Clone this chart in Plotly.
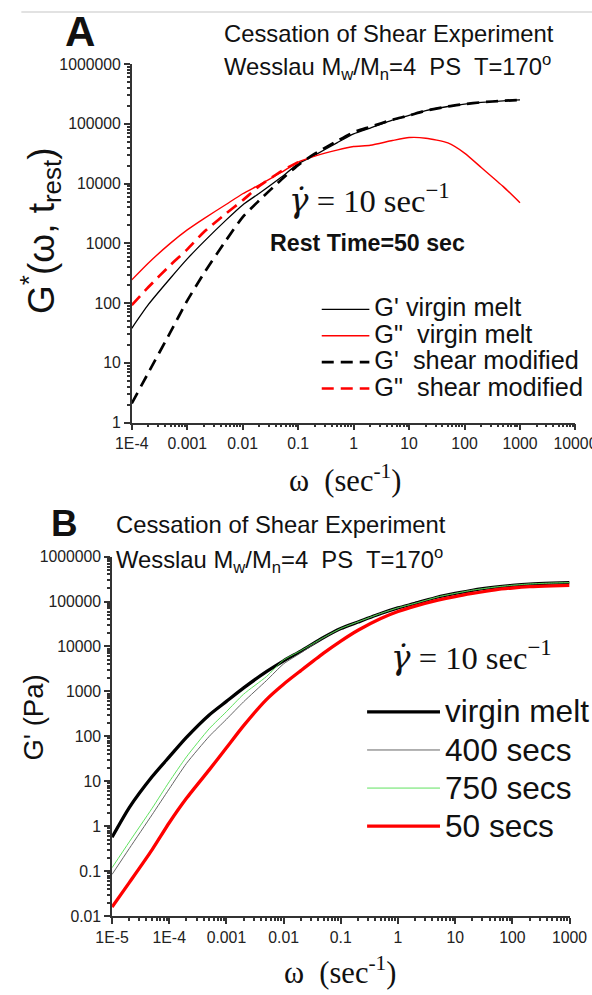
import plotly.graph_objects as go

# ---------------- Panel A data ----------------
omega_A = [1e-4, 2e-4, 5e-4, 1e-3, 2e-3, 5e-3, 1e-2, 2e-2, 5e-2, 0.1, 0.2, 0.5,
           1, 2, 5, 10, 20, 50, 100, 200, 500, 1000]
gp_virgin = [38, 95, 263, 550, 1070, 2450, 4400, 6900, 12900, 21400, 30000, 48000,
             68000, 85000, 115000, 138000, 166000, 195000, 214000, 229000, 243000, 251000]
gpp_virgin = [245, 470, 1010, 1680, 2600, 4470, 6760, 9550, 15500, 22900, 28800, 36300,
              41700, 43700, 52500, 58900, 57500, 47900, 32400, 18600, 8900, 4790]
gp_shear = [2.1, 6.9, 33, 110, 316, 1120, 2750, 5250, 11700, 20400, 31600, 51300,
            72400, 89100, 117000, 138000, 166000, 195000, 214000, 229000, 243000, 251000]
omega_A_gpp_shear = [1e-4, 2e-4, 5e-4, 1e-3, 2e-3, 5e-3, 1e-2, 2e-2, 5e-2, 0.1]
gpp_shear = [93, 186, 437, 794, 1550, 3160, 5250, 9120, 16200, 22900]

# ---------------- Panel B data ----------------
omega_B = [1e-5, 2e-5, 5e-5, 1e-4, 2e-4, 5e-4, 1e-3, 2e-3, 5e-3, 1e-2, 2e-2, 5e-2,
           0.1, 0.2, 0.5, 1, 2, 5, 10, 20, 50, 100, 200, 500, 1000]
gB_virgin = [0.57, 2.6, 12.6, 35, 95, 300, 600, 1200, 2750, 4800, 7900, 15800,
             25000, 35000, 54000, 72000, 91000, 126000, 151000, 178000, 209000, 229000, 245000, 257000, 263000]
gB_400 = [0.085, 0.32, 1.8, 6.8, 25, 100, 240, 590, 1740, 4100, 7200, 15500,
          25000, 35000, 54000, 72000, 91000, 126000, 151000, 178000, 209000, 229000, 245000, 257000, 263000]
gB_750 = [0.12, 0.45, 2.5, 9.8, 35, 148, 355, 870, 2140, 5000, 8100, 15900,
          25200, 35300, 54500, 72500, 91500, 127000, 152000, 179000, 210000, 230000, 246000, 258000, 264000]
gB_50 = [0.016, 0.056, 0.30, 1.2, 4.2, 18, 56, 174, 660, 1450, 2900, 7100,
         13200, 23000, 42000, 60000, 79000, 107000, 129000, 151000, 182000, 200000, 214000, 224000, 229000]

xtick_A = [1e-4, 1e-3, 1e-2, 0.1, 1, 10, 100, 1000, 10000]
xtext_A = ["1E-4", "0.001", "0.01", "0.1", "1", "10", "100", "1000", "10000"]
ytick_A = [1, 10, 100, 1000, 10000, 100000, 1000000]
ytext_A = ["1", "10", "100", "1000", "10000", "100000", "1000000"]
xtick_B = [1e-5, 1e-4, 1e-3, 1e-2, 0.1, 1, 10, 100, 1000]
xtext_B = ["1E-5", "1E-4", "0.001", "0.01", "0.1", "1", "10", "100", "1000"]
ytick_B = [0.01, 0.1, 1, 10, 100, 1000, 10000, 100000, 1000000]
ytext_B = ["0.01", "0.1", "1", "10", "100", "1000", "10000", "100000", "1000000"]

SANS = "Arial, Liberation Sans, sans-serif"
SERIF = "Times New Roman, Liberation Serif, serif"

# observed mapping from figure pixels to the photographed picture
SX, OX, SY, OY = 0.95, 7.6, 0.984, 7.9
W, H = 616, 1003


def lx(r):
    return (r - OX) / SX


def ly(r):
    return (r - OY) / SY


def X(r):
    return lx(r) / W


def Y(r):
    return 1 - ly(r) / H


def F(size):
    return round(size / SX, 1)


def minor_vals(lo, hi):
    vals = []
    for d in range(lo, hi):
        for k in range(2, 10):
            vals.append(k * 10.0 ** d)
    return vals


def big(name, size):
    return '<span style="font-size:%.1fpx">%s</span>' % (size, name)


fig = go.Figure()
SM = 0.6
LA, LB = F(24), F(30)

# Panel A traces
fig.add_trace(go.Scatter(x=omega_A, y=gp_virgin, mode="lines", name=big("G' virgin melt", LA),
                         line=dict(color="black", width=1.3, shape="spline", smoothing=SM),
                         xaxis="x", yaxis="y", legend="legend"))
fig.add_trace(go.Scatter(x=omega_A, y=gpp_virgin, mode="lines", name=big('G"\u00a0 virgin melt', LA),
                         line=dict(color="#ff0000", width=1.4, shape="spline", smoothing=SM),
                         xaxis="x", yaxis="y", legend="legend"))
fig.add_trace(go.Scatter(x=omega_A, y=gp_shear, mode="lines", name=big("G'\u00a0 shear modified", LA),
                         line=dict(color="black", width=2.7, dash="12px,7px", shape="spline", smoothing=SM),
                         xaxis="x", yaxis="y", legend="legend"))
fig.add_trace(go.Scatter(x=omega_A_gpp_shear, y=gpp_shear, mode="lines", name=big('G"\u00a0 shear modified', LA),
                         line=dict(color="#ff0000", width=2.7, dash="12px,7px", shape="spline", smoothing=SM),
                         xaxis="x", yaxis="y", legend="legend"))

# Panel B traces
fig.add_trace(go.Scatter(x=omega_B, y=gB_virgin, mode="lines", name=big("virgin melt", LB),
                         line=dict(color="black", width=3.3, shape="spline", smoothing=SM),
                         xaxis="x2", yaxis="y2", legend="legend2"))
fig.add_trace(go.Scatter(x=omega_B, y=gB_400, mode="lines", name=big("400 secs", LB),
                         line=dict(color="#555555", width=0.9, shape="spline", smoothing=SM),
                         xaxis="x2", yaxis="y2", legend="legend2"))
fig.add_trace(go.Scatter(x=omega_B, y=gB_750, mode="lines", name=big("750 secs", LB),
                         line=dict(color="#4ee04e", width=0.9, shape="spline", smoothing=SM),
                         xaxis="x2", yaxis="y2", legend="legend2"))
fig.add_trace(go.Scatter(x=omega_B, y=gB_50, mode="lines", name=big("50 secs", LB),
                         line=dict(color="#ff0000", width=3.3, shape="spline", smoothing=SM),
                         xaxis="x2", yaxis="y2", legend="legend2"))

axis_common = dict(type="log", showline=True, linecolor="#333", linewidth=1.5,
                   ticks="outside", ticklen=6, tickwidth=1.5, tickcolor="#333",
                   tickfont=dict(family=SANS, size=F(15), color="#222"),
                   showgrid=False, zeroline=False, mirror=False, tickmode="array")

# legend: sample line starting near the reference sample, text where the reference text starts
legA_x = lx(323) - 12
legA_w = lx(373) - 17 - legA_x
legB_x = lx(369) - 12
legB_w = lx(443) - 17 - legB_x

fig.update_layout(
    width=W, height=H, margin=dict(l=0, r=0, t=0, b=0),
    paper_bgcolor="white", plot_bgcolor="white",
    xaxis=dict(axis_common, domain=[X(124), X(574)], range=[-4, 4], anchor="y",
               tickvals=xtick_A, ticktext=xtext_A,
               minor=dict(ticks="outside", ticklen=3, tickcolor="#333", tickvals=minor_vals(-4, 4))),
    yaxis=dict(axis_common, domain=[Y(423), Y(64)], range=[0, 6], anchor="x",
               tickvals=ytick_A, ticktext=ytext_A,
               minor=dict(ticks="outside", ticklen=3, tickcolor="#333", tickvals=minor_vals(0, 6))),
    xaxis2=dict(axis_common, domain=[X(104), X(568)], range=[-5, 3], anchor="y2",
                tickvals=xtick_B, ticktext=xtext_B,
                minor=dict(ticks="outside", ticklen=3, tickcolor="#333", tickvals=minor_vals(-5, 3))),
    yaxis2=dict(axis_common, domain=[Y(917), Y(557)], range=[-2, 6], anchor="x2",
                tickvals=ytick_B, ticktext=ytext_B,
                minor=dict(ticks="outside", ticklen=3, tickcolor="#333", tickvals=minor_vals(-2, 6))),
    legend=dict(x=legA_x / W, y=1 - (ly(308) - 17) / H, xanchor="left", yanchor="top",
                bgcolor="rgba(0,0,0,0)", font=dict(family=SANS, size=18, color="#111"),
                tracegroupgap=0, itemwidth=legA_w),
    legend2=dict(x=legB_x / W, y=1 - (ly(712) - 24) / H, xanchor="left", yanchor="top",
                 bgcolor="rgba(0,0,0,0)", font=dict(family=SANS, size=27, color="#111"),
                 tracegroupgap=0, itemwidth=legB_w),
    showlegend=True,
)

ann = []
def add_text(text, px, py, size, family=SANS, xanchor="left", yanchor="middle", angle=0, color="#111"):
    ann.append(dict(text=text, x=X(px), y=Y(py), xref="paper", yref="paper",
                    xanchor=xanchor, yanchor=yanchor, showarrow=False, textangle=angle,
                    font=dict(family=family, size=size, color=color)))

GAMMA = '<span style="font-family:DejaVu Serif;font-style:italic">γ̇</span>'

# Panel A texts
add_text("<b>A</b>", 71, 31, F(40), xanchor="center")
add_text("Cessation of Shear Experiment", 216, 33, F(22.6))
add_text("Wesslau M<sub>w</sub>/M<sub>n</sub>=4\u00a0 PS\u00a0 T=170<sup>o</sup>", 216, 67, F(22.6))
add_text(GAMMA + " = 10 sec<sup>−1</sup>", 281, 199, F(31), family=SERIF)
add_text("<b>Rest Time=50 sec</b>", 262, 243, F(22))
add_text("ω\u00a0 (sec<sup>-1</sup>)", 340, 479, F(29), family=SERIF, xanchor="center")
add_text("G<sup>*</sup>(ω, t<sub>rest</sub>)", 32, 231, 37, xanchor="center", angle=-90)

# Panel B texts
add_text("<b>B</b>", 56, 524, F(35), xanchor="center")
add_text("Cessation of Shear Experiment", 106, 525, F(22.6))
add_text("Wesslau M<sub>w</sub>/M<sub>n</sub>=4\u00a0 PS\u00a0 T=170<sup>o</sup>", 106, 560, F(22.6))
add_text(GAMMA + " = 10 sec<sup>−1</sup>", 385, 657, F(31), family=SERIF)
add_text("ω\u00a0 (sec<sup>-1</sup>)", 335, 971, F(29), family=SERIF, xanchor="center")
add_text("G' (Pa)", 24, 718, 27.5, xanchor="center", angle=-90)

fig.update_layout(annotations=ann)
fig.add_shape(type="line", xref="paper", yref="paper", x0=X(12), x1=1, y0=Y(12), y1=Y(12),
              line=dict(color="#e2e2e2", width=2))

fig.write_html("out.html")
